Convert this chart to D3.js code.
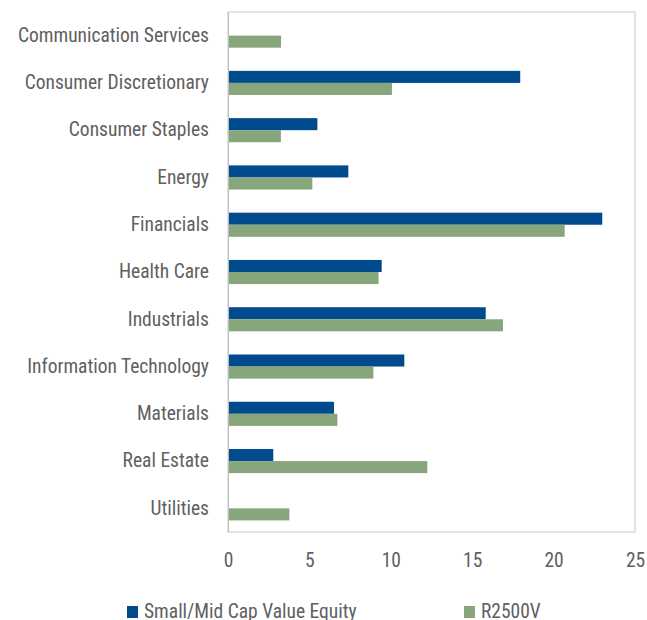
<!DOCTYPE html>
<html>
<head>
<meta charset="utf-8">
<script src="https://cdn.jsdelivr.net/npm/d3@7"></script>
<style>
  body { margin: 0; background: #fff; }
  text { font-family: "Liberation Sans Narrow", "Roboto Condensed", "Arial Narrow", sans-serif; fill: #606060; }
</style>
</head>
<body>
<div id="chart"></div>
<script>
// sector weights (%)
const sectors = ["Communication Services", "Consumer Discretionary", "Consumer Staples", "Energy",
  "Financials", "Health Care", "Industrials", "Information Technology", "Materials", "Real Estate", "Utilities"];
const fundValues = [0, 17.95, 5.49, 7.39, 22.99, 9.44, 15.83, 10.83, 6.51, 2.78, 0];
const benchValues = [3.26, 10.07, 3.25, 5.18, 20.68, 9.25, 16.89, 8.93, 6.72, 12.24, 3.77];
const seriesNames = ["Small/Mid Cap Value Equity", "R2500V"];
const xTicks = [0, 5, 10, 15, 20, 25];

const colors = ["#004b8d", "#87a67c"];

const width = 647, height = 620;
const margin = {top: 12, right: 12, bottom: 88, left: 228};

const svg = d3.select("#chart").append("svg")
  .attr("width", width).attr("height", height);

const x = d3.scaleLinear()
  .domain([0, 25])
  .range([margin.left, width - margin.right]);

const y = d3.scaleBand()
  .domain(sectors)
  .range([margin.top, height - margin.bottom])
  .paddingInner(0.49)
  .paddingOuter(0.245);

const sub = d3.scaleBand()
  .domain([0, 1])
  .range([0, y.bandwidth()]);

// plot frame
svg.append("rect")
  .attr("x", x(0)).attr("y", margin.top)
  .attr("width", x(25) - x(0)).attr("height", height - margin.bottom - margin.top)
  .attr("fill", "none").attr("stroke", "#c8c8c8").attr("stroke-width", 1);

const rows = sectors.map((s, i) => ({sector: s, vals: [fundValues[i], benchValues[i]]}));

const g = svg.append("g").selectAll("g")
  .data(rows).enter().append("g")
  .attr("transform", d => `translate(0,${y(d.sector)})`);

g.selectAll("rect")
  .data(d => d.vals.map((v, k) => ({v, k})))
  .enter().append("rect")
  .attr("x", x(0))
  .attr("y", d => sub(d.k))
  .attr("width", d => x(d.v) - x(0))
  .attr("height", sub.bandwidth())
  .attr("fill", d => colors[d.k]);

// category labels
const yAxis = svg.append("g")
  .attr("transform", `translate(${x(0)},0)`)
  .call(d3.axisLeft(y).tickSize(0).tickPadding(19));
yAxis.select(".domain").attr("stroke", "#bfbfbf");
yAxis.selectAll("text").style("font-size", "19.5px");

// x axis labels
const xAxis = svg.append("g")
  .attr("transform", `translate(0,${height - margin.bottom})`)
  .call(d3.axisBottom(x).tickValues(xTicks).tickSize(0).tickPadding(21));
xAxis.select(".domain").remove();
xAxis.selectAll("text").style("font-size", "19.5px");

// legend
const legendX = [127, 464];
const leg = svg.append("g").selectAll("g")
  .data(seriesNames).enter().append("g")
  .attr("transform", (d, i) => `translate(${legendX[i]},606)`);
leg.append("rect").attr("width", 11).attr("height", 12).attr("fill", (d, i) => colors[i]);
leg.append("text").attr("x", 17).attr("y", 11.5).style("font-size", "19.5px").text(d => d);
</script>
</body>
</html>
